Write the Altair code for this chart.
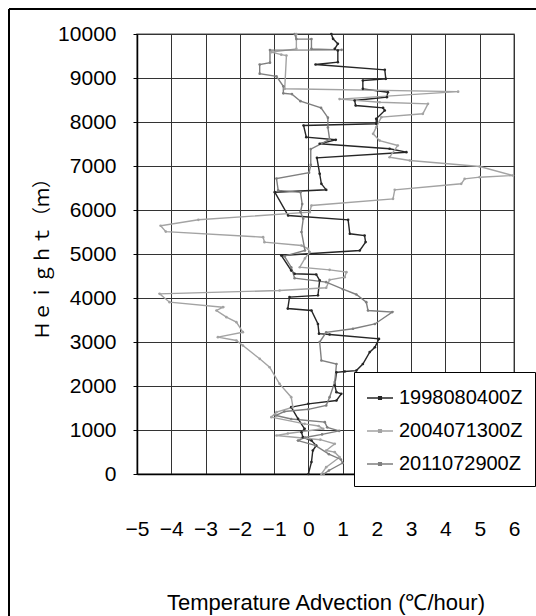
import altair as alt
import pandas as pd

# ---- data (x = temperature advection degC/hour, h = height m), bottom to top ----
s1998_x = [0.00, 0.09, 0.13, 0.23, 0.09, -0.16, -0.20, -0.11, -0.30, -0.50, 0.00, 0.82, 0.96,
           0.82, 0.77, 0.82, 1.06, 1.40, 1.59, 1.79, 1.94, 2.06, 0.62, 0.31, 0.28, 0.09, -0.60,
           -0.55, 0.28, 0.33, 0.23, -0.40, -0.50, -0.79, 1.50, 1.67, 1.64, 1.21, 1.16, -0.59,
           -0.98, 0.52, 0.38, 0.33, 0.25, 2.86, 2.37, 0.33, 0.80, -0.06, -0.14, 1.98, 1.98,
           2.23, 2.18, 1.38, 1.35, 2.29, 2.32, 1.59, 1.59, 2.26, 2.23, 0.21, 0.86, 0.86, 0.77,
           0.86, 0.72, 0.67]
s1998_h = [0, 270, 534, 648, 761, 837, 950, 1027, 1254, 1519, 1595, 1670, 1822,
           1860, 2011, 2310, 2330, 2350, 2500, 2770, 2880, 3070, 3170, 3190, 3410, 3716, 3760,
           4020, 4060, 4400, 4534, 4550, 4625, 4966, 5080, 5270, 5420, 5460, 5777, 5875,
           6405, 6459, 6595, 6822, 7186, 7314, 7391, 7505, 7595, 7655, 7920, 7959, 8072,
           8261, 8322, 8375, 8489, 8564, 8677, 8754, 8943, 8981, 9186, 9307, 9360, 9625, 9663,
           9777, 9890, 10000]

s2004_x = [0.38, 0.52, 0.91, 0.77, 0.52, 0.77, 0.35, -0.93, -0.60, 0.43, 0.30, -0.11, -1.08,
           -0.93, -0.45, -0.50, -0.84, -1.13, -1.42, -1.91, -2.10, -2.64, -1.91, -2.10, -2.39,
           -2.68, -2.49, -4.05, -4.34, -0.84, 0.52, 0.62, 1.06, 1.11, 0.62, -0.25, -0.10, 0.04,
           -0.01, -0.20, -1.28, -1.32, -4.16, -4.31, -3.21, 0.04, 0.09, 2.47, 2.52, 4.46, 4.56,
           5.00, 5.97, 5.00, 2.96, 2.37, 2.61, 2.08, 1.89, 1.98, 2.13, 3.34, 3.49, 2.08, 0.91,
           4.37, -0.69, -0.64, -0.79, -1.08, -0.35, -0.35]
s2004_h = [0, 155, 382, 496, 534, 686, 780, 875, 920, 1027, 1090, 1140, 1292,
           1405, 1519, 1746, 2049, 2427, 2618, 2920, 3034, 3110, 3223, 3451, 3564,
           3716, 3791, 3905, 4095, 4170, 4232, 4413, 4473, 4587, 4640, 4700, 4900, 5041,
           5118, 5193, 5269, 5382, 5509, 5643, 5777, 5951, 6102, 6254, 6459, 6595, 6708,
           6746, 6784, 6989, 7125, 7200, 7466, 7577, 7731, 7883, 8110, 8186, 8413, 8450, 8520,
           8690, 8754, 9511, 9530, 9587, 9663, 10000]

s2011_x = [0.45, 0.60, 1.00, 0.95, 0.60, 0.20, -0.30, -0.10, 0.40, 0.90, 0.55, 0.48, -0.50,
           -0.95, -0.70, 0.00, 0.52, 0.62, 0.77, 0.82, 0.38, 0.33, 0.52, 1.30, 1.94, 2.45, 1.74,
           1.69, 1.40, 1.01, 0.52, -0.40, -0.50, -0.70, -0.10, -0.20, -0.15, -0.23, -0.18,
           -0.23, -0.88, -0.93, 0.02, 0.07, 0.07, 0.62, 0.57, 0.57, 0.37, -0.23, -0.48, -0.73,
           -0.73, -0.93, -1.42, -1.42, -1.12, -1.12, 0.97, 0.09, 0.09, -0.35, -0.40]
s2011_h = [0, 80, 250, 330, 450, 650, 760, 830, 900, 980, 1060, 1178, 1250,
           1330, 1420, 1470, 1557, 1746, 2090, 2500, 2580, 3000, 3220, 3300, 3410, 3680, 3716,
           3905, 4080, 4200, 4360, 4450, 4700, 4950, 5080, 5500, 5800, 5955, 6134,
           6402, 6446, 6714, 6848, 7027, 7384, 7607, 7875, 8098, 8321, 8473, 8634, 8652,
           8813, 9036, 9098, 9304, 9348, 9634, 9640, 9663, 9884, 9884, 10000]

series_names = ["1998080400Z", "2004071300Z", "2011072900Z"]
series_colors = ["#262626", "#a3a3a3", "#7f7f7f"]
x_ticks = [-5, -4, -3, -2, -1, 0, 1, 2, 3, 4, 5, 6]
y_ticks = [0, 1000, 2000, 3000, 4000, 5000, 6000, 7000, 8000, 9000, 10000]

rows = []
for name, xs, hs in zip(series_names, [s1998_x, s2004_x, s2011_x], [s1998_h, s2004_h, s2011_h]):
    for i, (xv, hv) in enumerate(zip(xs, hs)):
        rows.append({"series": name, "x": xv, "h": hv, "i": i})
df = pd.DataFrame(rows)

FONT = "Liberation Sans"

color = alt.Color(
    "series:N",
    scale=alt.Scale(domain=series_names, range=series_colors),
    legend=alt.Legend(
        title=None, orient="none", legendX=217, legendY=338,
        fillColor="white", strokeColor="black",
        padding=12, rowPadding=9, labelOffset=5, labelLimit=300,
        labelFont=FONT, labelFontSize=20, labelColor="black",
        symbolType="M-1,0H1M-0.1,-0.1H0.1V0.1H-0.1Z", symbolSize=676,
        symbolStrokeWidth=1.5, symbolFillColor="transparent",
    ),
)

x_enc = alt.X(
    "x:Q",
    scale=alt.Scale(domain=[-5, 6], nice=False, zero=False),
    axis=alt.Axis(
        values=x_ticks, title="Temperature Advection (℃/hour)",
        titleFont=FONT, titleFontSize=22, titleFontWeight="normal", titleColor="black",
        titleBaseline="alphabetic", titleY=135,
        labelFont=FONT, labelFontSize=21, labelColor="black", labelOverlap=False,
        labelFlush=False, labelPadding=55, labelBaseline="middle", tickSize=0,
        grid=True, gridColor="#333333", gridWidth=1,
        domainColor="black", domainWidth=1.5,
    ),
)
y_enc = alt.Y(
    "h:Q",
    scale=alt.Scale(domain=[0, 10000], nice=False),
    axis=alt.Axis(
        values=y_ticks, format="d", title="Ｈｅｉｇｈｔ（ｍ）",
        titleFont="Noto Sans CJK JP", titleFontSize=19, titleFontWeight="normal", titleColor="black",
        titleAngle=270, titleBaseline="middle", titleAlign="center", titleX=-95, titleY=220,
        labelFont=FONT, labelFontSize=21, labelColor="black", labelOverlap=False,
        labelFlush=False, labelPadding=17, tickSize=4, tickColor="black",
        grid=True, gridColor="#333333", gridWidth=1,
        domainColor="black", domainWidth=1.5,
    ),
)

lines = alt.Chart(df).mark_line(
    strokeWidth=1.4,
    point=alt.OverlayMarkDef(size=7, filled=True),
).encode(x=x_enc, y=y_enc, color=color, order=alt.Order("i:Q"))

frame_left = alt.Chart(df).mark_rule(color="black", strokeWidth=1.5).encode(
    x=alt.value(-128), y=alt.value(-25), y2=alt.value(600)
)
frame_top = alt.Chart(df).mark_rule(color="black", strokeWidth=1.5).encode(
    x=alt.value(-128), x2=alt.value(420), y=alt.value(-25)
)

chart = alt.layer(lines, frame_left, frame_top).properties(
    width=377, height=440,
    autosize=alt.AutoSizeParams(type="none"),
    padding={"left": 137, "top": 34, "right": 22, "bottom": 142},
    background="white",
).configure_view(stroke="#888888", strokeWidth=1.5)

chart.save("out.html", embed_options={"renderer": "svg", "actions": False})
